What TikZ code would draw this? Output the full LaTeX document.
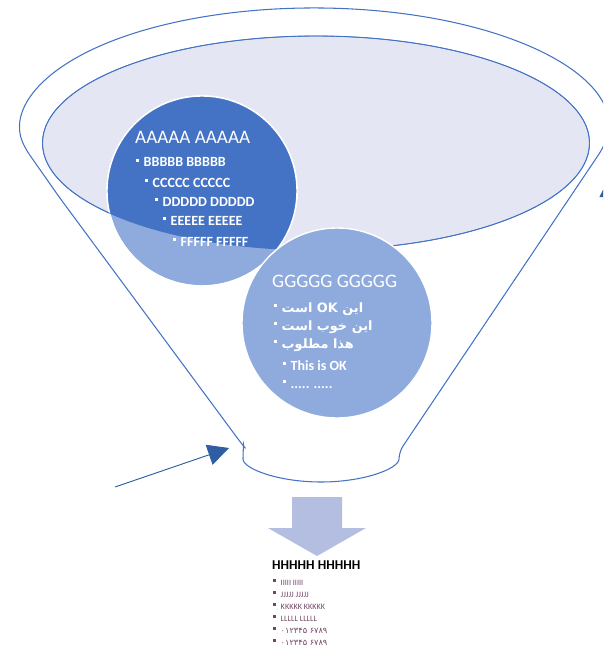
\documentclass[tikz,border=0pt]{standalone}
\usepackage{fontspec}
\setmainfont{Carlito}
\newfontfamily\arabicfont[Script=Arabic]{DejaVu Sans}
\TeXXeTstate=1
\usetikzlibrary{shapes.geometric,arrows.meta,positioning}

\definecolor{rimblue}{RGB}{68,114,196}
\definecolor{mouthfill}{RGB}{228,231,243}
\definecolor{darkdot}{RGB}{68,114,196}
\definecolor{lightdot}{RGB}{143,170,220}
\definecolor{dropfill}{RGB}{180,190,224}
\definecolor{pointblue}{RGB}{47,94,163}
\definecolor{smalltxt}{RGB}{115,70,100}

\newcommand{\dotmark}[1][4.5pt]{\raisebox{#1}{\rule{2.4pt}{2.4pt}}\hspace{4pt}}

\tikzstyle{Rim} = [draw=rimblue, line width=0.9pt]
\tikzstyle{Mouth} = [ellipse, draw=rimblue, line width=0.8pt, fill=mouthfill,
                     minimum width=16.41cm, minimum height=6.42cm, inner sep=0]
\tikzstyle{Dot} = [circle, draw=white, line width=1.2pt, minimum size=5.7cm, inner sep=0]
\tikzstyle{Head} = [anchor=base west, inner sep=0, text=white,
                    font=\fontsize{16.3}{19}\selectfont]
\tikzstyle{Item} = [anchor=base west, inner sep=0, text=white,
                    font=\bfseries\fontsize{12}{14}\selectfont]
\tikzstyle{Small} = [anchor=base west, inner sep=0, text=smalltxt,
                     font=\fontsize{7}{8}\selectfont]
\tikzstyle{Pointer} = [draw=pointblue, line width=0.8pt,
                       -{Triangle[length=0.63cm, width=0.63cm]}]

\begin{document}
\begin{tikzpicture}
    [x=0.03cm, y=-0.03cm]
    \useasboundingbox (0,0) rectangle (603,648);
    \clip (0,0) rectangle (603,648);

    %% Funnel
    \draw [Rim, rounded corners=6pt] (59.8,197.9) -- (241,443) .. controls (243.5,446) .. (243,452)
        arc[start angle=180, end angle=0, x radius=78, y radius=30]
        -- (602.5,148.8) arc[start angle=10, end angle=-190, x radius=293, y radius=120]
        -- cycle;
    \node [Mouth] (mouth) at (316,143) {};

    %% Circles
    \node [Dot, fill=lightdot] (circA) at (202,191) {};
    \begin{scope}
        \clip (316,143) ellipse [x radius=273.5, y radius=107];
        \fill [darkdot] (circA.center) circle [radius=2.85cm];
    \end{scope}
    \draw [white, line width=1.2pt] (circA.center) circle [radius=2.85cm];
    \draw [rimblue, line width=0.6pt] (mouth.center) ellipse [x radius=273.5, y radius=107];
    \node [Dot, fill=lightdot] (circG) at (337,323) {};

    %% Text A
    \node [Head] (ttlA) at (135,143) {AAAAA AAAAA};
    \node [Item] (itB) at (136,167) {\dotmark BBBBB BBBBB};
    \node [Item] (itC) at (145,187) {\dotmark CCCCC CCCCC};
    \node [Item] (itD) at (155,206) {\dotmark DDDDD DDDDD};
    \node [Item] (itE) at (163,225) {\dotmark EEEEE EEEEE};
    \node [Item] (itF) at (173,246) {\dotmark FFFFF FFFFF};

    %% Text G
    \node [Head] (ttlG) at (272,287) {GGGGG GGGGG};
    \node [Item] (itG1) at (274,312) {\dotmark{\arabicfont\fontsize{11}{13}\selectfont\beginR این \beginL OK\endL{} است\endR}};
    \node [Item] (itG2) at (274,330) {\dotmark{\arabicfont\fontsize{11}{13}\selectfont\beginR این خوب است\endR}};
    \node [Item] (itG3) at (274,348) {\dotmark{\arabicfont\fontsize{11}{13}\selectfont\beginR هذا مطلوب\endR}};
    \node [Item] (itG4) at (283,370) {\dotmark This is OK};
    \node [Item] (itG5) at (283,388) {\dotmark ..... .....};

    %% Output
    \fill [dropfill] (292,497) -- (342,497) -- (342,528) -- (366,528) -- (317,556)
        -- (268,528) -- (292,528) -- cycle;
    \node [Small, text=black, font=\bfseries\fontsize{11.5}{13}\selectfont] (ttlH) at (272,569) {HHHHH HHHHH};
    \node [Small] (itI) at (273,585) {\dotmark[2.5pt]IIIII IIIII};
    \node [Small] (itJ) at (273,597) {\dotmark[2.5pt]JJJJJ JJJJJ};
    \node [Small] (itK) at (273,609) {\dotmark[2.5pt]KKKKK KKKKK};
    \node [Small] (itL) at (273,621) {\dotmark[2.5pt]LLLLL LLLLL};
    \node [Small] (itM) at (273,633) {\dotmark[2.5pt]{\arabicfont\beginR\beginL۶۷۸۹\endL{} \beginL۰۱۲۳۴۵\endL\endR}};
    \node [Small] (itN) at (273,645) {\dotmark[2.5pt]{\arabicfont\beginR\beginL۶۷۸۹\endL{} \beginL۰۱۲۳۴۵\endL\endR}};

    %% Pointers
    \coordinate (ltail) at (115,487);
    \coordinate (ltip) at (229,448);
    \coordinate (rtail) at (610,330);
    \coordinate (rtip) at (610,176);
    \draw [Pointer] (ltail) -- (ltip);
    \draw [Pointer] (rtail) -- (rtip);

\end{tikzpicture}
\end{document}
